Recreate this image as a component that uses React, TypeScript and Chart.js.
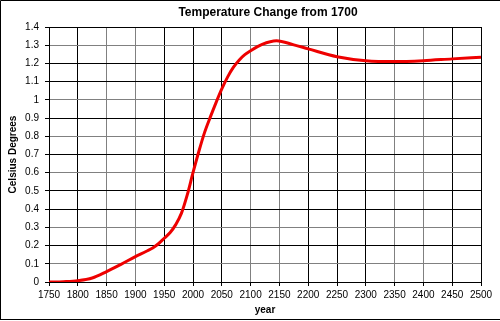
import React, { useEffect, useRef } from "react";
import { Chart, registerables } from "chart.js";

Chart.register(...registerables);

const TITLE = "Temperature Change from 1700";
const X_TITLE = "year";
const Y_TITLE = "Celsius Degrees";

const years = [1750, 1775, 1800, 1825, 1850, 1875, 1900, 1920, 1930, 1940, 1950, 1960, 1970, 1980, 1990, 2000, 2010, 2020, 2030, 2040, 2050, 2060, 2070, 2080, 2090, 2100, 2120, 2145, 2175, 2200, 2250, 2300, 2350, 2400, 2450, 2500];
const temps = [0, 0.002, 0.007, 0.022, 0.057, 0.097, 0.139, 0.17, 0.187, 0.21, 0.24, 0.27, 0.315, 0.378, 0.478, 0.6, 0.715, 0.82, 0.905, 0.985, 1.06, 1.125, 1.178, 1.218, 1.248, 1.27, 1.305, 1.325, 1.302, 1.28, 1.237, 1.215, 1.21, 1.215, 1.225, 1.234];

const xGray = [1850, 1900, 2100, 2150, 2350, 2400];
const yGrayTenths = [1, 3, 6, 8, 10, 13];

const FONT = "'Liberation Sans', Arial, sans-serif";

export default function App() {
  const ref = useRef<HTMLCanvasElement | null>(null);

  useEffect(() => {
    document.body.style.margin = "0";
    const canvas = ref.current;
    if (!canvas) return;

    const framePlugin = {
      id: "frameAndTitle",
      afterDraw(chart: any) {
        const ctx = chart.ctx;
        const ca = chart.chartArea;
        ctx.save();
        ctx.strokeStyle = "#000";
        ctx.lineWidth = 1;
        ctx.beginPath();
        ctx.moveTo(0.5, 319.5);
        ctx.lineTo(0.5, 0.5);
        ctx.lineTo(500, 0.5);
        ctx.moveTo(0, 319.5);
        ctx.lineTo(500, 319.5);
        ctx.stroke();
        ctx.fillStyle = "#000";
        ctx.font = `bold 12px ${FONT}`;
        ctx.textAlign = "center";
        ctx.textBaseline = "middle";
        ctx.fillText(TITLE, (ca.left + ca.right) / 2 + 3, 13);
        ctx.restore();
      },
    };

    const chart = new Chart(canvas, {
      type: "line",
      data: {
        datasets: [
          {
            data: years.map((y, i) => ({ x: y, y: temps[i] })),
            borderColor: "#EE0000",
            borderWidth: 3,
            pointRadius: 0,
            cubicInterpolationMode: "monotone",
            fill: false,
          },
        ],
      },
      options: {
        responsive: false,
        animation: false,
        layout: { padding: { top: 27, right: 19, left: 0, bottom: 0 } },
        plugins: {
          legend: { display: false },
          title: { display: false },
          tooltip: { enabled: false },
        },
        scales: {
          x: {
            type: "linear",
            min: 1750,
            max: 2500,
            afterFit: (s: any) => {
              s.height = 39;
            },
            ticks: {
              stepSize: 50,
              color: "#000",
              font: { family: FONT, size: 10 },
              padding: 3,
              maxRotation: 0,
              autoSkip: false,
              callback: (v: any) => String(v),
            },
            grid: {
              color: (c: any) => (xGray.includes(c.tick?.value) ? "#808080" : "#000"),
              tickColor: "#000",
              tickLength: 4,
              lineWidth: 1,
            },
            border: { color: "#000" },
            title: {
              display: true,
              text: X_TITLE,
              color: "#000",
              font: { family: FONT, size: 10, weight: "bold" },
              padding: { top: 0, bottom: 5 },
            },
          },
          y: {
            min: 0,
            max: 1.4,
            afterFit: (s: any) => {
              s.width = 49;
            },
            ticks: {
              stepSize: 0.1,
              color: "#000",
              font: { family: FONT, size: 10 },
              padding: 6,
              callback: (v: any) => String(Number(Number(v).toFixed(1))),
            },
            grid: {
              color: (c: any) =>
                yGrayTenths.includes(Math.round((c.tick?.value ?? 0) * 10)) ? "#808080" : "#000",
              tickColor: "#000",
              tickLength: 4,
              lineWidth: 1,
            },
            border: { color: "#000" },
            title: {
              display: true,
              text: Y_TITLE,
              color: "#000",
              font: { family: FONT, size: 10, weight: "bold" },
              padding: { top: 7, bottom: 0 },
            },
          },
        },
      },
      plugins: [framePlugin],
    } as any);

    return () => chart.destroy();
  }, []);

  return (
    <div style={{ width: 500, height: 321 }}>
      <canvas ref={ref} width={500} height={321} style={{ display: "block" }} />
    </div>
  );
}
